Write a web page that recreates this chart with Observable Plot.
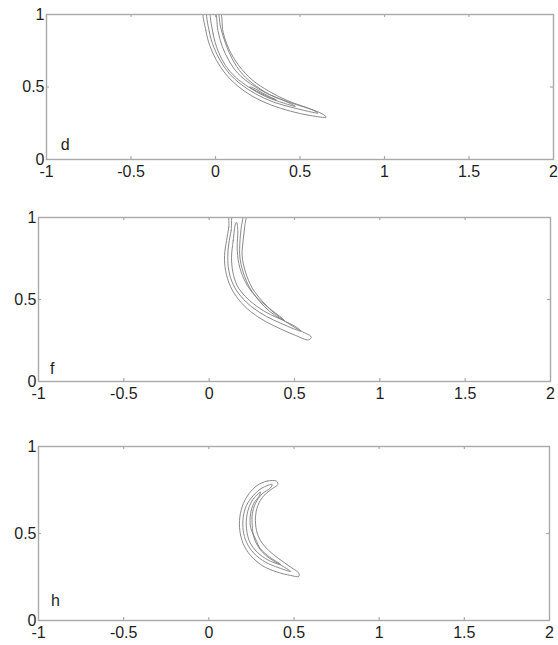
<!DOCTYPE html>
<html>
<head>
<meta charset="utf-8">
<script src="https://cdn.jsdelivr.net/npm/d3@7"></script>
<script src="https://cdn.jsdelivr.net/npm/@observablehq/plot@0.6"></script>
<style>
  html, body { margin: 0; padding: 0; background: #fff; }
  #wrap { position: relative; width: 558px; height: 645px; overflow: hidden; }
  .panel { position: absolute; left: 0; }
  .panel svg { overflow: visible; }
</style>
</head>
<body>
<div id="wrap"></div>
<script>
// ---- data ----
const xTicks = [-1, -0.5, 0, 0.5, 1, 1.5, 2];
const yTicks = [0, 0.5, 1];
const innerXTicks = [-0.5, 0, 0.5, 1, 1.5];
const innerYTicks = [0.5];
const panelLabels = ["d", "f", "h"];
const labelPos = [[-0.89, 0.1], [-0.92, 0.08], [-0.9, 0.11]];

// panel d contours
const dOuter = [[-0.068,1.03],[-0.057,0.89],[-0.034,0.786],[0.006,0.683],[0.059,0.591],[0.128,0.51],[0.217,0.437],[0.326,0.377],[0.444,0.333],[0.562,0.303],[0.655,0.292],[0.631,0.315],[0.543,0.356],[0.424,0.407],[0.316,0.471],[0.217,0.549],[0.138,0.648],[0.079,0.763],[0.045,0.878],[0.022,1.03]];
const dMiddle = [[-0.047,1.03],[-0.036,0.878],[-0.01,0.775],[0.03,0.678],[0.083,0.591],[0.152,0.517],[0.237,0.453],[0.345,0.395],[0.464,0.356],[0.572,0.326],[0.606,0.32],[0.572,0.343],[0.464,0.384],[0.345,0.434],[0.243,0.504],[0.158,0.591],[0.099,0.694],[0.059,0.802],[0.03,0.913],[0.008,1.03]];
const dInner = [[-0.028,1.03],[-0.014,0.867],[0.014,0.752],[0.059,0.648],[0.118,0.568],[0.197,0.499],[0.296,0.434],[0.404,0.389],[0.473,0.366],[0.404,0.407],[0.302,0.457],[0.207,0.522],[0.132,0.595],[0.079,0.683],[0.04,0.779],[0.014,0.89],[-0.004,1.03]];
const dCore = [[0.2,0.5],[0.28,0.45],[0.36,0.41],[0.30,0.445],[0.22,0.495]];

// panel f contours
const fOuter = [[0.124,1.03],[0.115,0.941],[0.102,0.86],[0.09,0.768],[0.096,0.677],[0.125,0.579],[0.174,0.498],[0.242,0.427],[0.33,0.366],[0.418,0.321],[0.506,0.281],[0.584,0.254],[0.598,0.271],[0.525,0.315],[0.447,0.366],[0.375,0.423],[0.311,0.49],[0.252,0.571],[0.213,0.667],[0.193,0.768],[0.199,0.86],[0.209,0.951],[0.214,1.03]];
const fMiddle = [[0.142,1.03],[0.129,0.921],[0.115,0.84],[0.109,0.758],[0.115,0.677],[0.141,0.591],[0.187,0.518],[0.252,0.453],[0.336,0.396],[0.418,0.356],[0.496,0.321],[0.539,0.307],[0.506,0.335],[0.428,0.376],[0.355,0.427],[0.291,0.494],[0.238,0.571],[0.199,0.667],[0.18,0.758],[0.18,0.85],[0.187,0.931],[0.194,1.03]];
const fInner = [[0.154,0.961],[0.141,0.86],[0.131,0.758],[0.139,0.667],[0.164,0.585],[0.213,0.518],[0.281,0.457],[0.359,0.408],[0.437,0.376],[0.369,0.433],[0.301,0.49],[0.246,0.551],[0.203,0.626],[0.174,0.718],[0.164,0.819],[0.168,0.921],[0.16,0.971]];

// panel h contours
const hOuter = [[0.397,0.801],[0.342,0.801],[0.284,0.776],[0.235,0.728],[0.202,0.671],[0.182,0.594],[0.182,0.517],[0.202,0.441],[0.245,0.374],[0.313,0.316],[0.402,0.278],[0.48,0.259],[0.528,0.253],[0.528,0.272],[0.48,0.307],[0.411,0.355],[0.352,0.402],[0.303,0.46],[0.28,0.517],[0.274,0.594],[0.288,0.661],[0.323,0.718],[0.372,0.757],[0.405,0.782]];
const hMiddle = [[0.372,0.782],[0.313,0.762],[0.261,0.718],[0.221,0.661],[0.202,0.594],[0.202,0.517],[0.221,0.45],[0.264,0.387],[0.333,0.335],[0.411,0.303],[0.48,0.282],[0.417,0.322],[0.347,0.364],[0.294,0.418],[0.264,0.479],[0.255,0.546],[0.255,0.613],[0.274,0.674],[0.313,0.728],[0.362,0.762]];
const hInner = [[0.303,0.738],[0.255,0.69],[0.225,0.613],[0.221,0.527],[0.241,0.45],[0.284,0.393],[0.352,0.345],[0.421,0.322],[0.358,0.364],[0.303,0.412],[0.274,0.469],[0.245,0.536],[0.245,0.613],[0.264,0.674],[0.294,0.713]];

const panelContours = [
  [dOuter, dMiddle, dInner, dCore],
  [fOuter, fMiddle, fInner],
  [hOuter, hMiddle, hInner]
];

// ---- layout ----
const layout = [
  {top: 0,   height: 190, mt: 14, mb: 31, ml: 46, mr: 5},
  {top: 200, height: 210, mt: 17, mb: 29, ml: 38, mr: 8},
  {top: 420, height: 225, mt: 26, mb: 25, ml: 38, mr: 9}
];

const axisColor = "#a9a9a9";
const lineColor = "#7d7d7d";
const textColor = "#1e1e1e";
const W = 558;

const wrap = document.getElementById("wrap");

layout.forEach((L, i) => {
  const fw = W - L.ml - L.mr;
  const fh = L.height - L.mt - L.mb;
  const fmt = d => String(d);
  const plot = Plot.plot({
    width: W,
    height: L.height,
    marginTop: L.mt, marginBottom: L.mb, marginLeft: L.ml, marginRight: L.mr,
    x: {domain: [-1, 2]},
    y: {domain: [0, 1]},
    style: {fontFamily: "'Liberation Sans', Arial, Helvetica, sans-serif", background: "#fff", overflow: "visible"},
    marks: [
      ...panelContours[i].map(c => Plot.line(c, {
        x: d => d[0], y: d => d[1], curve: "catmull-rom-closed",
        stroke: lineColor, strokeWidth: 0.9, clip: true
      })),
      Plot.frame({stroke: axisColor, strokeWidth: 1.4}),
      // inward tick marks on all four sides
      Plot.tickX(innerXTicks, {x: d => d, insetTop: fh - 3, stroke: axisColor, strokeWidth: 1.2}),
      Plot.tickX(innerXTicks, {x: d => d, insetBottom: fh - 3, stroke: axisColor, strokeWidth: 1.2}),
      Plot.tickY(innerYTicks, {y: d => d, insetRight: fw - 3, stroke: axisColor, strokeWidth: 1.2}),
      Plot.tickY(innerYTicks, {y: d => d, insetLeft: fw - 3, stroke: axisColor, strokeWidth: 1.2}),
      Plot.axisX(xTicks, {anchor: "bottom", tickSize: 0, tickPadding: 6, tickFormat: fmt,
        fontSize: 16, fill: textColor, style: "letter-spacing:1px"}),
      Plot.axisY(yTicks, {anchor: "left", tickSize: 0, tickPadding: 2, tickFormat: fmt,
        fontSize: 16, fill: textColor, style: "letter-spacing:1px"}),
      Plot.text([panelLabels[i]], {
        x: () => labelPos[i][0], y: () => labelPos[i][1], text: d => d,
        fontSize: 16, fill: textColor
      })
    ]
  });
  const div = document.createElement("div");
  div.className = "panel";
  div.style.top = L.top + "px";
  div.appendChild(plot);
  wrap.appendChild(div);
});
</script>
</body>
</html>
